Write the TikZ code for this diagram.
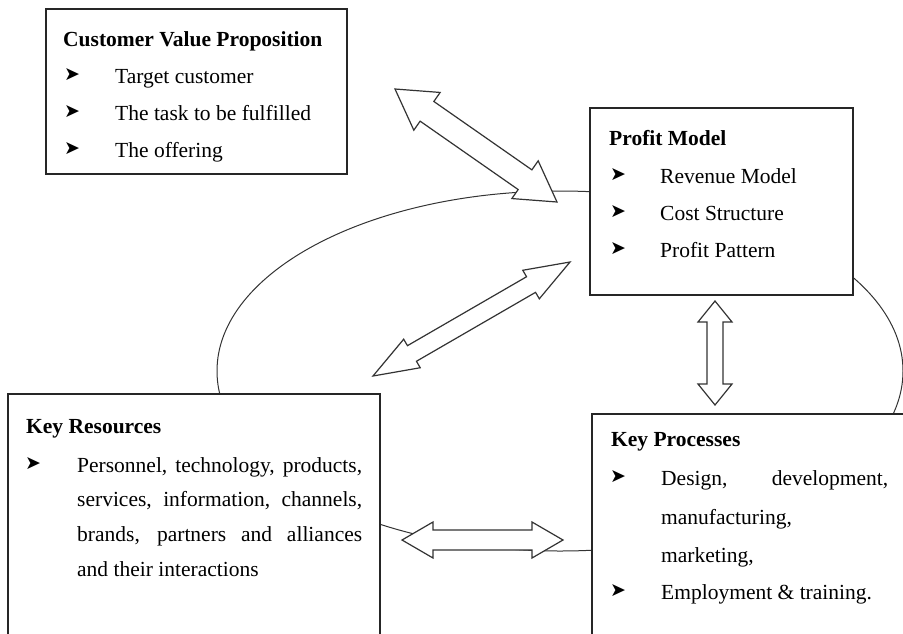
\documentclass[tikz,border=0pt]{standalone}
\usepackage{fontspec}
\setmainfont{Liberation Serif}
\newfontfamily\dingfont{DejaVu Sans}
\usetikzlibrary{calc}

% hollow double-headed block arrow between two named coordinates
% #1, #2 tips; #3 shaft half-width; #4 head half-width; #5 head length
\newcommand{\blockarrow}[5]{%
  \path ($(#1)!#5!(#2)$) coordinate (ha) ($(#2)!#5!(#1)$) coordinate (hb);
  \draw[arrowbody] (#1)
    -- ($(ha)!#4!90:(#2)$) -- ($(ha)!#3!90:(#2)$)
    -- ($(hb)!#3!-90:(#1)$) -- ($(hb)!#4!-90:(#1)$)
    -- (#2)
    -- ($(hb)!#4!90:(#1)$) -- ($(hb)!#3!90:(#1)$)
    -- ($(ha)!#3!-90:(#2)$) -- ($(ha)!#4!-90:(#2)$)
    -- cycle;
}

\tikzset{
  box/.style={draw=black!85, line width=1.3pt, fill=white, inner sep=0pt,
    outer sep=0pt, anchor=north west},
  loopline/.style={draw=black!80, line width=1pt},
  arrowbody/.style={draw=black!80, line width=1.2pt, fill=white, line join=miter},
  txt/.style={anchor=base west, inner sep=0pt, font=\fontsize{21.5}{26}\selectfont},
  head/.style={txt, font=\fontsize{21.5}{26}\selectfont\bfseries},
  bul/.style={anchor=base west, inner sep=0pt, font=\dingfont\fontsize{19}{22}\selectfont},
}

\begin{document}
\begin{tikzpicture}[x=1pt, y=-1pt]
\useasboundingbox (0,0) rectangle (903,633);
\clip (0,0) rectangle (903,633);

% the cycle linking the four building blocks
\draw[loopline] (560,371) ellipse [x radius=343pt, y radius=180pt];

% building blocks
\node[box, minimum width=301pt, minimum height=165pt] (cvp) at (46,9) {};
\node[box, minimum width=263pt, minimum height=187pt] (pm) at (590,108) {};
\node[box, minimum width=372pt, minimum height=270pt] (kr) at (8,394) {};
\node[box, minimum width=340pt, minimum height=250pt] (kp) at (592,414) {};

% Customer Value Proposition
\node[head] (cvp-h) at (63,46) {Customer Value Proposition};
\foreach \y/\t [count=\i] in {83/Target customer, 120/The task to be fulfilled, 157/The offering}{
  \node[bul] (cvp-b\i) at (64,\y-3) {➤};
  \node[txt] (cvp-t\i) at (115,\y) {\t};
}

% Profit Model
\node[head] (pm-h) at (609,145) {Profit Model};
\foreach \y/\t [count=\i] in {183/Revenue Model, 220/Cost Structure, 257/Profit Pattern}{
  \node[bul] (pm-b\i) at (610,\y-3) {➤};
  \node[txt] (pm-t\i) at (660,\y) {\t};
}

% Key Resources
\node[head] (kr-h) at (26,433) {Key Resources};
\node[bul] (kr-b1) at (25,469) {➤};
\node[txt] (kr-t1) at (77,472) {\makebox[285pt][s]{Personnel, technology, products,}};
\node[txt] (kr-t2) at (77,506) {\makebox[285pt][s]{services, information, channels,}};
\node[txt] (kr-t3) at (77,541) {\makebox[285pt][s]{brands, partners and alliances}};
\node[txt] (kr-t4) at (77,576) {and their interactions};

% Key Processes
\node[head] (kp-h) at (611,446) {Key Processes};
\node[bul] (kp-b1) at (610,482) {➤};
\node[txt] (kp-t1) at (661,485) {\makebox[227pt][s]{Design, development,}};
\node[txt] (kp-t2) at (661,524) {manufacturing,};
\node[txt] (kp-t3) at (661,562) {marketing,};
\node[bul] (kp-b2) at (610,596) {➤};
\node[txt] (kp-t4) at (661,599) {Employment \& training.};

% links between the blocks
\coordinate (a1s) at (395,89);  \coordinate (a1e) at (557,202);
\coordinate (a2s) at (570,262); \coordinate (a2e) at (373,376);
\coordinate (a3s) at (715,301); \coordinate (a3e) at (715,405);
\coordinate (a4s) at (402,540); \coordinate (a4e) at (563,540);
\blockarrow{a1s}{a1e}{12pt}{23pt}{39pt}
\blockarrow{a2s}{a2e}{9pt}{16.5pt}{45pt}
\blockarrow{a3s}{a3e}{8pt}{17pt}{21pt}
\blockarrow{a4s}{a4e}{10pt}{18pt}{31pt}
\end{tikzpicture}
\end{document}
